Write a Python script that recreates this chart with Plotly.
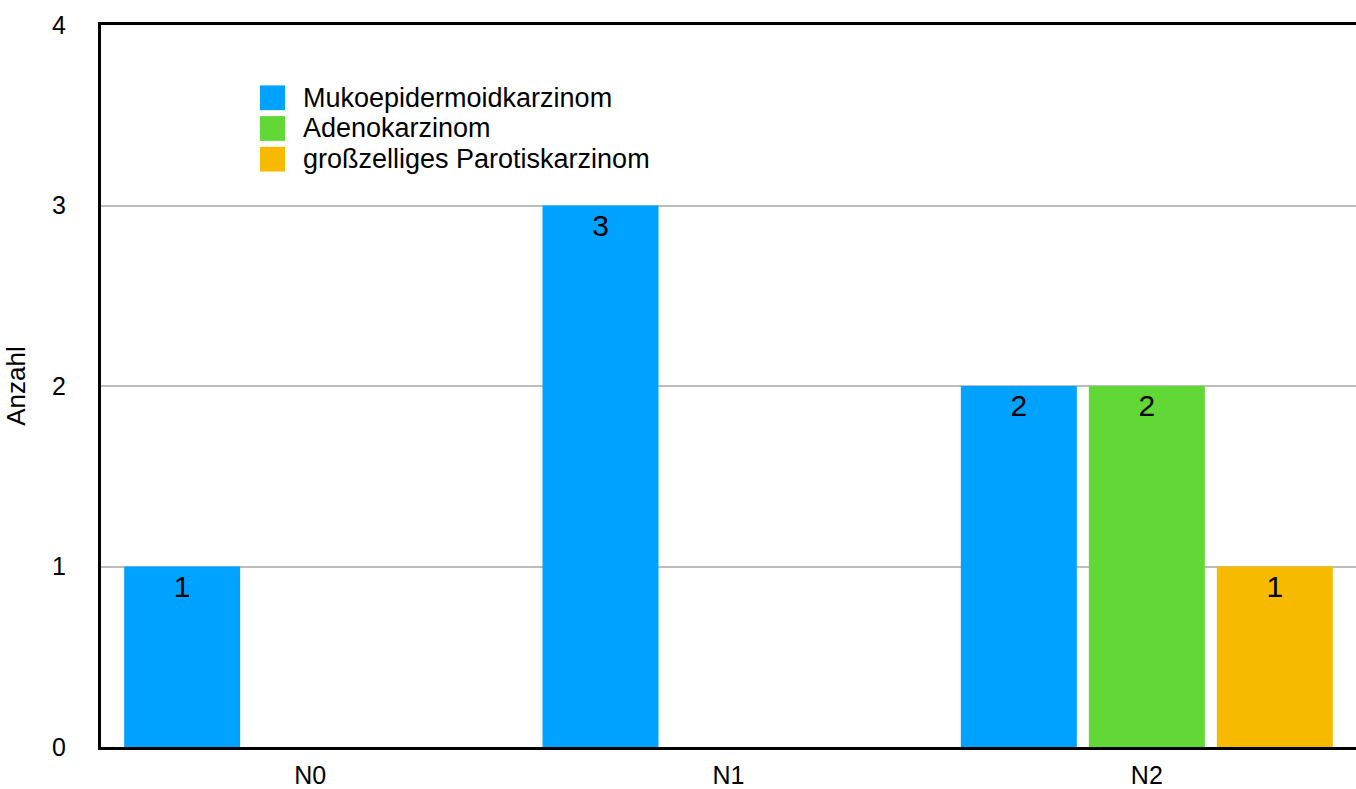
import plotly.graph_objects as go

# Lymph node stage categories and counts per tumour type
categories = ["N0", "N1", "N2"]
mukoepidermoid = [1, 3, 2]
adeno = [None, None, 2]
grosszellig = [None, None, 1]

series_names = ["Mukoepidermoidkarzinom", "Adenokarzinom", "großzelliges Parotiskarzinom"]
series_values = [mukoepidermoid, adeno, grosszellig]
series_colors = ["#00A2FF", "#61D836", "#F8BA00"]

FONT = "Liberation Sans, Arial, Helvetica, sans-serif"

W, H = 1356, 789
ML, MR, MT, MB = 101, 0, 25, 35
PW, PH = W - ML - MR, H - MT - MB


def px_to_paper_x(px):
    return (px - ML) / PW


def px_to_paper_y(py):
    return (H - MB - py) / PH


fig = go.Figure()
for name, vals, color in zip(series_names, series_values, series_colors):
    fig.add_trace(go.Bar(
        x=categories,
        y=vals,
        name=name,
        marker=dict(color=color, line=dict(width=0)),
        text=[("" if v is None else str(v)) for v in vals],
        textposition="inside",
        insidetextanchor="end",
        textangle=0,
        textfont=dict(family=FONT, size=30, color="black"),
        showlegend=False,
    ))

# Legend drawn as large colour swatches with labels beside them
shapes = []
annotations = []
sw_left, sw_size, row_top, row_pitch = 260, 25, 86, 31
for i, (name, color) in enumerate(zip(series_names, series_colors)):
    top = row_top + i * row_pitch
    shapes.append(dict(
        type="rect", xref="paper", yref="paper",
        x0=px_to_paper_x(sw_left), x1=px_to_paper_x(sw_left + sw_size),
        y0=px_to_paper_y(top + sw_size), y1=px_to_paper_y(top),
        fillcolor=color, line=dict(width=0), layer="above",
    ))
    annotations.append(dict(
        xref="paper", yref="paper",
        x=px_to_paper_x(sw_left + sw_size + 16),
        y=px_to_paper_y(top + sw_size / 2),
        xanchor="left", yanchor="middle",
        text=name, showarrow=False,
        font=dict(family=FONT, size=27, color="black"),
    ))

fig.update_layout(
    width=W,
    height=H,
    margin=dict(l=ML, r=MR, t=MT, b=MB),
    paper_bgcolor="white",
    plot_bgcolor="white",
    barmode="group",
    bargap=0.082,
    bargroupgap=0.094,
    font=dict(family=FONT, size=25, color="black"),
    uniformtext=dict(minsize=30, mode="show"),
    showlegend=False,
    shapes=shapes,
    annotations=annotations,
)

fig.update_xaxes(
    showline=True, linecolor="black", linewidth=3, mirror=True,
    showgrid=False, ticks="", ticklabelstandoff=4,
    tickfont=dict(family=FONT, size=25, color="black"),
)
fig.update_yaxes(
    range=[0, 4], dtick=1,
    showline=True, linecolor="black", linewidth=3,
    showgrid=True, gridcolor="#BDBDBD", gridwidth=2,
    zeroline=False, ticks="", ticklabelstandoff=27,
    tickfont=dict(family=FONT, size=25, color="black"),
    title=dict(text="Anzahl", font=dict(family=FONT, size=26, color="black"), standoff=19),
)

fig.write_html("out.html")
